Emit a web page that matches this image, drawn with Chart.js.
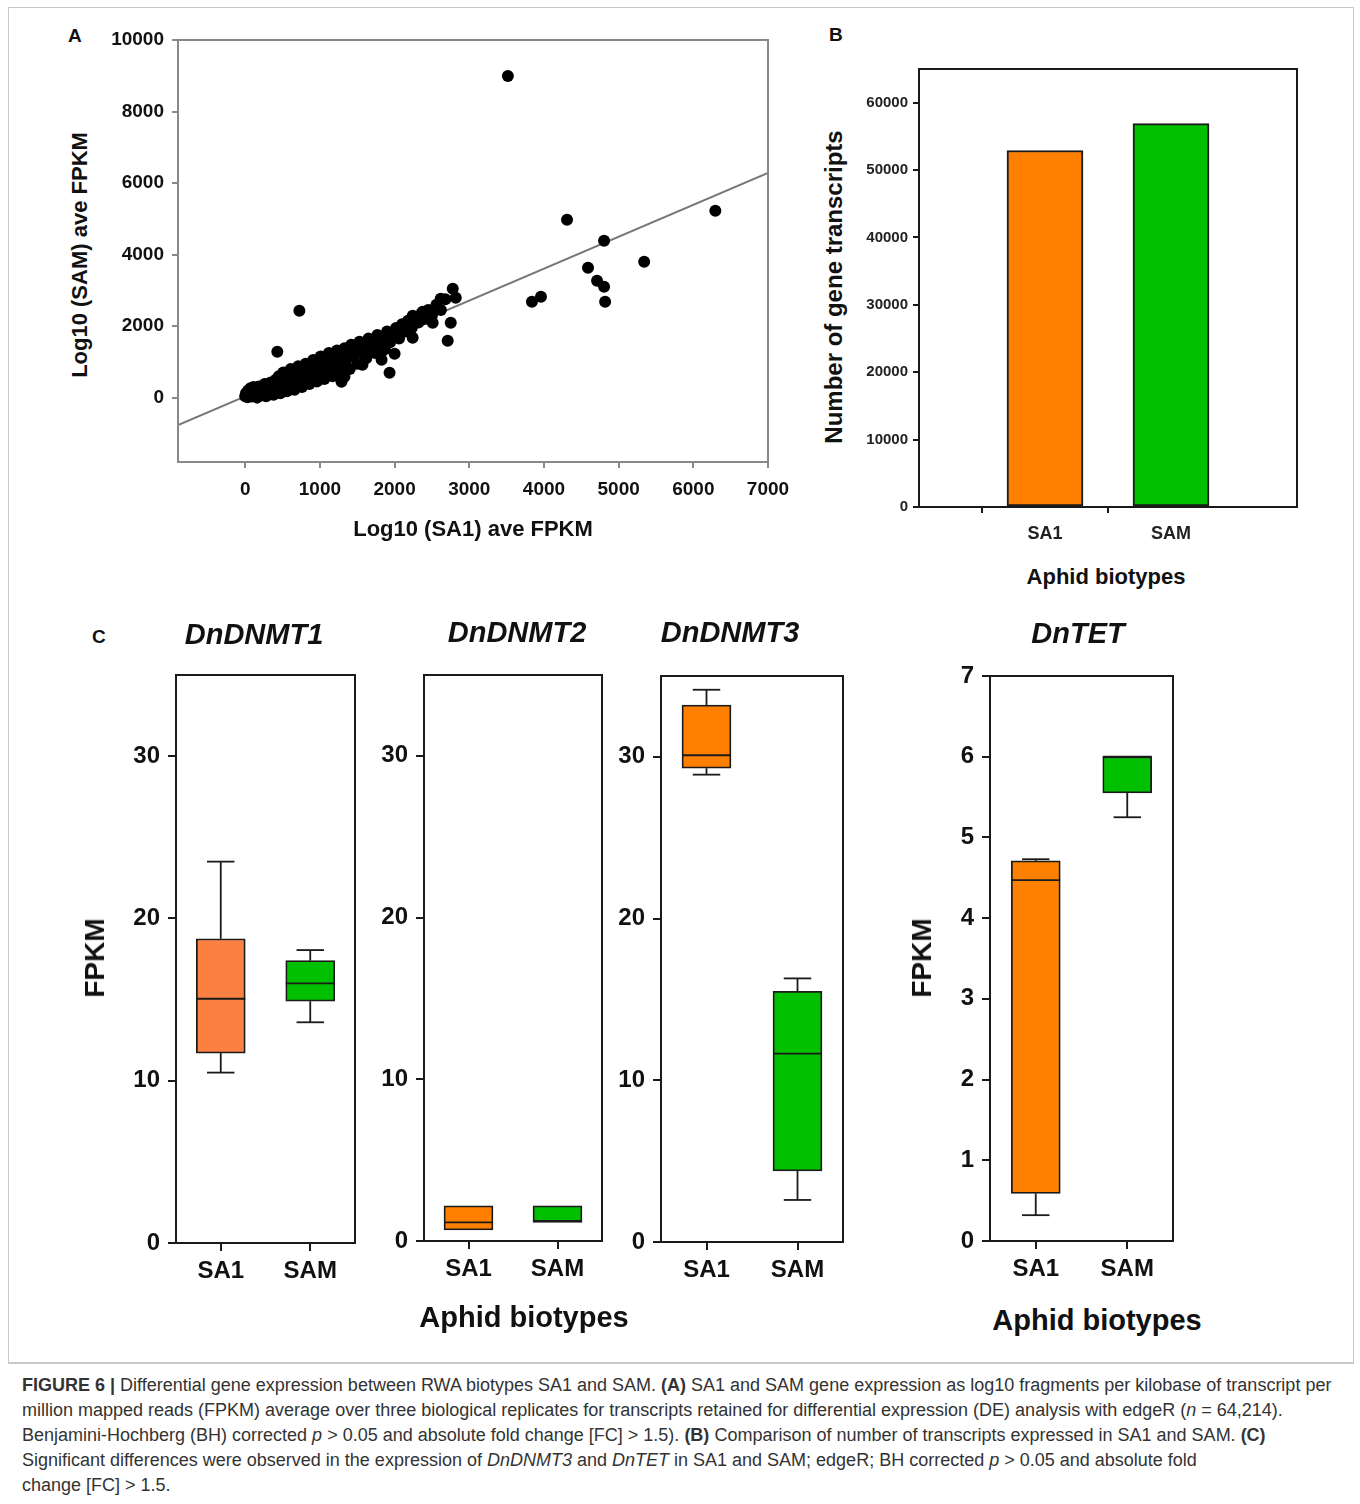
<!DOCTYPE html>
<html>
<head>
<meta charset="utf-8">
<script src="https://cdn.jsdelivr.net/npm/chart.js@4"></script>
<style>
  body { margin: 0; background: #fff; }
  #fig { position: relative; width: 1360px; height: 1504px; font-family: "Liberation Sans", Arial, sans-serif; color: #111; }
  canvas { position: absolute; }
  .lbl { position: absolute; white-space: nowrap; font-weight: bold; transform: translate(-50%, -50%); }
  .rot { transform: translate(-50%, -50%) rotate(-90deg); }
  .gene { position: absolute; white-space: nowrap; font-weight: bold; font-style: italic; font-size: 29px; transform: translate(-50%, -50%); }
  .panel { position: absolute; font-weight: bold; font-size: 19px; }
  #caption { position: absolute; left: 22px; top: 1373px; font-size: 18px; line-height: 25px; color: #333; white-space: nowrap; }
</style>
</head>
<body>
<div id="fig">
  <div style="position:absolute;left:8px;top:7px;width:1344px;height:1355px;border:1px solid #c8c8c8;"></div>

  <canvas id="scatterChart" width="700" height="500" style="left:100px;top:20px"></canvas>
  <canvas id="barChart" width="450" height="500" style="left:860px;top:50px"></canvas>
  <canvas id="dnmt1Chart" width="270" height="650" style="left:100px;top:650px"></canvas>
  <canvas id="dnmt2Chart" width="260" height="650" style="left:360px;top:650px"></canvas>
  <canvas id="dnmt3Chart" width="260" height="650" style="left:600px;top:650px"></canvas>
  <canvas id="tetChart" width="270" height="650" style="left:920px;top:650px"></canvas>

  <div class="panel" style="left:68px;top:25px">A</div>
  <div class="panel" style="left:829px;top:24px">B</div>
  <div class="panel" style="left:92px;top:626px">C</div>

  <div class="lbl rot" style="left:80px;top:255px;font-size:22px">Log10 (SAM) ave FPKM</div>
  <div class="lbl" style="left:473px;top:529px;font-size:22px">Log10 (SA1) ave FPKM</div>

  <div class="lbl rot" style="left:834px;top:287px;font-size:24px">Number of gene transcripts</div>
  <div class="lbl" style="left:1106px;top:577px;font-size:22px;font-family:'Liberation Sans Narrow','Liberation Sans',Arial">Aphid biotypes</div>

  <div class="gene" style="left:254px;top:634px">DnDNMT1</div>
  <div class="gene" style="left:517px;top:632px">DnDNMT2</div>
  <div class="gene" style="left:730px;top:632px">DnDNMT3</div>
  <div class="gene" style="left:1078px;top:633px">DnTET</div>

  <div class="lbl rot" style="left:95px;top:958px;font-size:28px">FPKM</div>
  <div class="lbl rot" style="left:922px;top:958px;font-size:28px">FPKM</div>
  <div class="lbl" style="left:524px;top:1317px;font-size:29px">Aphid biotypes</div>
  <div class="lbl" style="left:1097px;top:1320px;font-size:29px">Aphid biotypes</div>

  <div style="position:absolute;left:8px;top:1362px;width:1345px;border-top:1px solid #c8c8c8;"></div>
  <div id="caption">
    <b>FIGURE 6 |</b> Differential gene expression between RWA biotypes SA1 and SAM. <b>(A)</b> SA1 and SAM gene expression as log10 fragments per kilobase of transcript per<br>
    million mapped reads (FPKM) average over three biological replicates for transcripts retained for differential expression (DE) analysis with edgeR (<i>n</i> = 64,214).<br>
    Benjamini-Hochberg (BH) corrected <i>p</i> &gt; 0.05 and absolute fold change [FC] &gt; 1.5). <b>(B)</b> Comparison of number of transcripts expressed in SA1 and SAM. <b>(C)</b><br>
    Significant differences were observed in the expression of <i>DnDNMT3</i> and <i>DnTET</i> in SA1 and SAM; edgeR; BH corrected <i>p</i> &gt; 0.05 and absolute fold<br>
    change [FC] &gt; 1.5.
  </div>
</div>

<script>
// Panel A data
const bandX = [0, 10, 30, 40, 60, 70, 90, 100, 110, 130, 140, 160, 170, 180, 200, 210, 230, 250, 260, 280, 290, 310, 330, 340, 360, 380, 390, 410, 420, 440, 450, 470, 480, 500, 510, 530, 550, 560, 580, 600, 610, 630, 650, 660, 680, 700, 710, 730, 750, 760, 780, 800, 810, 830, 850, 860, 880, 900, 910, 930, 950, 960, 980, 1000, 1010, 1030, 1050, 1060, 1080, 1100, 1120, 1140, 1160, 1170, 1200, 1220, 1230, 1250, 1280, 1300, 1310, 1330, 1350, 1380, 1400, 1420, 1450, 1480, 1500, 1530, 1560, 1590, 1620, 1650, 1680, 1710, 1740, 1770, 1800, 1840, 1870, 1900, 1940, 1980, 2020, 2060, 2100, 2140, 2180, 2230, 2270, 2320, 2360, 2400, 2450, 2500, 2560, 2620, 2680];
const bandY = [40, 120, 10, 200, 90, 260, 30, 160, 300, 80, 220, 0, 120, 310, 190, 60, 260, 120, 380, 40, 200, 300, 130, 420, 230, 80, 350, 500, 180, 300, 600, 120, 420, 260, 700, 360, 520, 180, 640, 300, 800, 450, 580, 220, 700, 380, 880, 520, 640, 300, 780, 460, 950, 600, 720, 380, 860, 540, 1050, 700, 820, 450, 940, 620, 1150, 780, 900, 520, 1020, 700, 1250, 860, 980, 600, 1100, 780, 1320, 950, 1180, 700, 880, 1380, 1050, 1250, 800, 1480, 1150, 1350, 950, 1560, 1250, 1430, 1100, 1650, 1350, 1550, 1250, 1750, 1450, 1620, 1350, 1850, 1550, 1750, 1950, 1650, 2050, 1850, 2150, 1950, 2250, 2100, 2350, 2200, 2450, 2300, 2600, 2450, 2750];
const outlierX = [430, 725, 1289, 1329, 1570, 1933, 1826, 2000, 1826, 2242, 2201, 2510, 2376, 2242, 2779, 2819, 2617, 2752, 2711, 3517, 4309, 4805, 6295, 4590, 5342, 4711, 4805, 3839, 3960, 4819];
const outlierY = [1285, 2430, 447, 587, 922, 698, 1061, 1229, 1285, 1676, 1899, 2095, 2402, 2290, 3045, 2793, 2765, 2095, 1592, 8994, 4972, 4385, 5223, 3631, 3799, 3268, 3101, 2682, 2821, 2682];
const fitX = [-900, 7000];
const fitY = [-771, 6284];

// Panel B data
const biotypes = ["SA1", "SAM"];
const transcriptCounts = [52900, 56900];

// Panel C data: min, Q1, median, Q3, max for SA1 and SAM
const dnmt1Min = [10.5, 13.6], dnmt1Q1 = [11.7, 14.9], dnmt1Med = [15.05, 16.0], dnmt1Q3 = [18.75, 17.4], dnmt1Max = [23.5, 18.05];
const dnmt2Min = [0.68, 1.15], dnmt2Q1 = [0.68, 1.15], dnmt2Med = [1.15, 1.25], dnmt2Q3 = [2.18, 2.18], dnmt2Max = [2.18, 2.18];
const dnmt3Min = [28.9, 2.6], dnmt3Q1 = [29.3, 4.4], dnmt3Med = [30.1, 11.65], dnmt3Q3 = [33.2, 15.5], dnmt3Max = [34.15, 16.3];
const tetMin = [0.32, 5.25], tetQ1 = [0.59, 5.55], tetMed = [4.47, 6.0], tetQ3 = [4.71, 6.0], tetMax = [4.73, 6.0];

const FONT = "'Liberation Sans', Arial, sans-serif";
const NARROW = "'Liberation Sans Narrow', 'Liberation Sans', Arial, sans-serif";

// Frame around the plot area
const framePlugin = {
  id: "frame",
  afterDraw(chart, args, opts) {
    if (!opts.color) return;
    const a = chart.chartArea;
    const ctx = chart.ctx;
    ctx.save();
    ctx.strokeStyle = opts.color;
    ctx.lineWidth = opts.width || 1;
    ctx.strokeRect(a.left, a.top, a.right - a.left, a.bottom - a.top);
    ctx.restore();
  }
};

// Whiskers and medians for the box plots
const whiskerPlugin = {
  id: "whiskers",
  afterDatasetsDraw(chart, args, opts) {
    if (!opts.med) return;
    const ctx = chart.ctx;
    const ys = chart.scales.y;
    const meta = chart.getDatasetMeta(0);
    ctx.save();
    ctx.strokeStyle = "#1a1a1a";
    ctx.lineWidth = 1.8;
    meta.data.forEach((bar, i) => {
      const x = bar.x, w = bar.width;
      const cap = w * 0.28;
      const seg = (x1, y1, x2, y2) => { ctx.beginPath(); ctx.moveTo(x1, y1); ctx.lineTo(x2, y2); ctx.stroke(); };
      if (opts.max[i] > opts.q3[i]) {
        seg(x, ys.getPixelForValue(opts.q3[i]), x, ys.getPixelForValue(opts.max[i]));
        seg(x - cap, ys.getPixelForValue(opts.max[i]), x + cap, ys.getPixelForValue(opts.max[i]));
      }
      if (opts.min[i] < opts.q1[i]) {
        seg(x, ys.getPixelForValue(opts.q1[i]), x, ys.getPixelForValue(opts.min[i]));
        seg(x - cap, ys.getPixelForValue(opts.min[i]), x + cap, ys.getPixelForValue(opts.min[i]));
      }
      const my = ys.getPixelForValue(opts.med[i]);
      seg(x - w / 2, my, x + w / 2, my);
    });
    ctx.restore();
  }
};

Chart.register(framePlugin, whiskerPlugin);

function fixedTicks(values) {
  return scale => { scale.ticks = values.map(v => ({ value: v })); };
}
const plain = v => String(v);

// Panel A: scatter
new Chart(document.getElementById("scatterChart"), {
  type: "scatter",
  data: {
    datasets: [
      {
        data: bandX.map((x, i) => ({ x: x, y: bandY[i] })).concat(outlierX.map((x, i) => ({ x: x, y: outlierY[i] }))),
        backgroundColor: "#000",
        borderWidth: 0,
        pointRadius: 6,
        order: 1
      },
      {
        type: "line",
        data: fitX.map((x, i) => ({ x: x, y: fitY[i] })),
        borderColor: "#777",
        borderWidth: 2,
        pointRadius: 0,
        order: 2
      }
    ]
  },
  options: {
    responsive: false,
    animation: false,
    layout: { padding: { top: 20, right: 32, bottom: 0, left: 0 } },
    plugins: { legend: { display: false }, tooltip: { enabled: false }, frame: { color: "#888", width: 2 } },
    scales: {
      x: {
        type: "linear", min: -900, max: 7000,
        afterBuildTicks: fixedTicks([0, 1000, 2000, 3000, 4000, 5000, 6000, 7000]),
        afterFit: s => { s.height = 58; s.paddingLeft = 0; s.paddingRight = 0; },
        grid: { drawOnChartArea: false, tickLength: 6, color: "#888", lineWidth: 2 },
        border: { color: "#888", width: 2 },
        ticks: { color: "#111", padding: 10, maxRotation: 0, callback: plain, font: { family: FONT, size: 19, weight: "bold" } }
      },
      y: {
        type: "linear", min: -1800, max: 10000,
        afterBuildTicks: fixedTicks([0, 2000, 4000, 6000, 8000, 10000]),
        afterFit: s => { s.width = 78; s.paddingTop = 0; s.paddingBottom = 0; },
        grid: { drawOnChartArea: false, tickLength: 6, color: "#888", lineWidth: 2 },
        border: { color: "#888", width: 2 },
        ticks: { color: "#111", padding: 8, callback: plain, font: { family: FONT, size: 19, weight: "bold" } }
      }
    }
  }
});

// Panel B: bar chart
new Chart(document.getElementById("barChart"), {
  type: "bar",
  data: {
    labels: ["", biotypes[0], biotypes[1], ""],
    datasets: [{
      data: [null, transcriptCounts[0], transcriptCounts[1], null],
      backgroundColor: ["#FF8000", "#FF8000", "#00C000", "#00C000"],
      borderColor: "#1a1a1a",
      borderWidth: 2,
      borderSkipped: false,
      barThickness: 76
    }]
  },
  options: {
    responsive: false,
    animation: false,
    layout: { padding: { top: 19, right: 13, bottom: 0, left: 0 } },
    plugins: { legend: { display: false }, tooltip: { enabled: false }, frame: { color: "#1a1a1a", width: 2 } },
    scales: {
      x: {
        offset: false,
        afterFit: s => { s.height = 43; },
        grid: {
          drawOnChartArea: false, tickLength: 6, lineWidth: 2,
          color: ctx => (ctx.index === 1 || ctx.index === 2) ? "#1a1a1a" : "rgba(0,0,0,0)"
        },
        border: { color: "#1a1a1a", width: 2 },
        ticks: { color: "#222", padding: 10, font: { family: NARROW, size: 18, weight: "bold" } }
      },
      y: {
        min: 0, max: 65000,
        afterBuildTicks: fixedTicks([0, 10000, 20000, 30000, 40000, 50000, 60000]),
        afterFit: s => { s.width = 59; },
        grid: { drawOnChartArea: false, tickLength: 6, color: "#1a1a1a", lineWidth: 2 },
        border: { color: "#1a1a1a", width: 2 },
        ticks: { color: "#222", padding: 5, callback: plain, font: { family: NARROW, size: 15, weight: "bold" } }
      }
    }
  }
});

// Panel C: box plots
function makeBoxChart(id, s, layout) {
  return new Chart(document.getElementById(id), {
    type: "bar",
    data: {
      labels: biotypes,
      datasets: [{
        data: s.q1.map((v, i) => [v, s.q3[i]]),
        backgroundColor: s.colors,
        borderColor: "#1a1a1a",
        borderWidth: 1.8,
        borderSkipped: false,
        barThickness: 49
      }]
    },
    options: {
      responsive: false,
      animation: false,
      layout: { padding: { top: layout.top, right: layout.right, bottom: 0, left: 0 } },
      plugins: {
        legend: { display: false },
        tooltip: { enabled: false },
        frame: { color: "#1a1a1a", width: 2 },
        whiskers: s
      },
      scales: {
        x: {
          afterFit: sc => { sc.height = layout.xh; },
          grid: { drawOnChartArea: false, offset: false, tickLength: 8, color: "#1a1a1a", lineWidth: 2 },
          border: { color: "#1a1a1a", width: 2 },
          ticks: { color: "#111", padding: 6, font: { family: FONT, size: 24, weight: "bold" } }
        },
        y: {
          min: 0, max: s.top,
          afterBuildTicks: fixedTicks(s.ticks),
          afterFit: sc => { sc.width = layout.yw; },
          grid: { drawOnChartArea: false, tickLength: 8, color: "#1a1a1a", lineWidth: 2 },
          border: { color: "#1a1a1a", width: 2 },
          ticks: { color: "#111", padding: 8, callback: plain, font: { family: FONT, size: 24, weight: "bold" } }
        }
      }
    }
  });
}

const fpkmTicks = [0, 10, 20, 30];
makeBoxChart("dnmt1Chart",
  { min: dnmt1Min, q1: dnmt1Q1, med: dnmt1Med, q3: dnmt1Q3, max: dnmt1Max, colors: ["#FA8142", "#00C000"], ticks: fpkmTicks, top: 35 },
  { top: 25, right: 15, xh: 57, yw: 76 });
makeBoxChart("dnmt2Chart",
  { min: dnmt2Min, q1: dnmt2Q1, med: dnmt2Med, q3: dnmt2Q3, max: dnmt2Max, colors: ["#FF8000", "#00C000"], ticks: fpkmTicks, top: 35 },
  { top: 25, right: 18, xh: 59, yw: 64 });
makeBoxChart("dnmt3Chart",
  { min: dnmt3Min, q1: dnmt3Q1, med: dnmt3Med, q3: dnmt3Q3, max: dnmt3Max, colors: ["#FF8000", "#00C000"], ticks: fpkmTicks, top: 35 },
  { top: 26, right: 17, xh: 58, yw: 61 });
makeBoxChart("tetChart",
  { min: tetMin, q1: tetQ1, med: tetMed, q3: tetQ3, max: tetMax, colors: ["#FF8000", "#00C000"], ticks: [0, 1, 2, 3, 4, 5, 6, 7], top: 7 },
  { top: 26, right: 17, xh: 59, yw: 70 });
</script>
</body>
</html>
